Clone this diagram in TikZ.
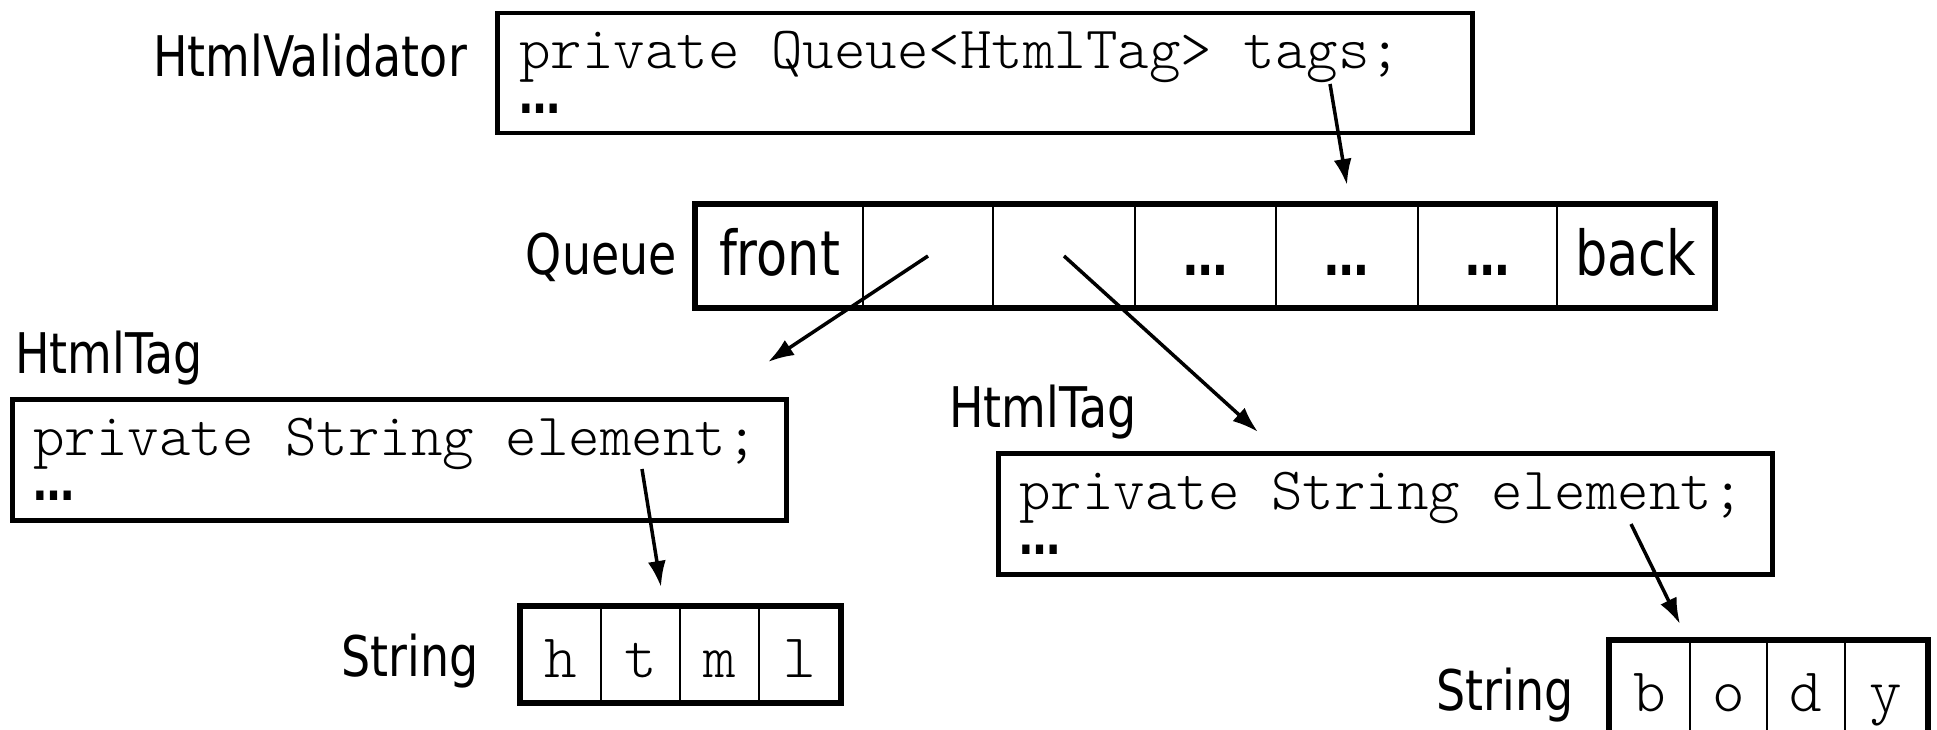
\documentclass[tikz,border=0pt]{standalone}
\usepackage{fontspec}
\setmainfont{DejaVu Sans}[FakeStretch=0.82]
\newfontfamily\codefont{Latin Modern Mono Light}
\usetikzlibrary{arrows.meta}
\tikzset{
    objbox/.style={draw, line width=4.5pt, inner sep=0pt, anchor=north west},
    arraybox/.style={draw, line width=6pt},
    cell/.style={draw, line width=2pt, inner sep=0pt, anchor=north west,
        text height=44pt, text depth=6pt},
    typename/.style={font=\fontsize{56}{60}\selectfont, inner sep=0pt},
    code/.style={font=\codefont\fontsize{60}{64}\selectfont, inner sep=0pt, anchor=base west},
    etc/.style={font=\bfseries\fontsize{50}{54}\selectfont, inner sep=0pt, anchor=base west},
    ref/.style={-{Latex[length=26pt,width=18pt]}, line width=3.5pt}
}
\newcommand\more{{\bfseries\fontsize{54}{58}\selectfont …}}

\begin{document}
\begin{tikzpicture}[x=1pt, y=-1pt]
    \useasboundingbox (0,0) rectangle (1937,730);

    % HtmlValidator object
    \node[typename, anchor=base east] (validatorname) at (467,77) {HtmlValidator};
    \node[objbox, minimum width=975, minimum height=120] (validator) at (495,11) {};
    \node[code] (validatorfield) at (519,69) {private Queue<HtmlTag> tags;};
    \node[etc] (validatoretc) at (519,114) {…};

    % the queue
    \node[typename, anchor=base east] (queuename) at (677,274) {Queue};
    \foreach \l/\r/\t [count=\i] in {695/862/front, 862/992/, 992/1134/,
            1134/1275/\more, 1275/1417/\more, 1417/1556/\more, 1556/1713/back} {
        \node[cell, minimum width=\r-\l, minimum height=102,
            font=\fontsize{62}{66}\selectfont] (q\i) at (\l,204) {\t};
    }
    \draw[arraybox] (q1.north west) rectangle (q7.south east);

    % first tag
    \node[typename, anchor=base west] (tagAname) at (15,373) {HtmlTag};
    \node[objbox, minimum width=774, minimum height=121] (tagA) at (10,397) {};
    \node[code] (tagAfield) at (33,455) {private String element;};
    \node[etc] (tagAetc) at (33,500) {…};

    \node[typename, anchor=base east] (strAname) at (479,676) {String};
    \foreach \l/\r/\t [count=\i] in {520/600/h, 600/679/t, 679/758/m, 758/839/l} {
        \node[cell, minimum width=\r-\l, minimum height=95, text height=50pt, text depth=4pt,
            font=\codefont\fontsize{62}{66}\selectfont] (a\i) at (\l,606) {\t};
    }
    \draw[arraybox] (a1.north west) rectangle (a4.south east);

    % second tag
    \node[typename, anchor=base west] (tagBname) at (949,427) {HtmlTag};
    \node[objbox, minimum width=774, minimum height=121] (tagB) at (996,451) {};
    \node[code] (tagBfield) at (1019,509) {private String element;};
    \node[etc] (tagBetc) at (1019,554) {…};

    \node[typename, anchor=base east] (strBname) at (1574,710) {String};
    \foreach \l/\r/\t [count=\i] in {1609/1689/b, 1689/1766/o, 1766/1844/d, 1844/1926/y} {
        \node[cell, minimum width=\r-\l, minimum height=95, text height=50pt, text depth=4pt,
            font=\codefont\fontsize{62}{66}\selectfont] (b\i) at (\l,640) {\t};
    }
    \draw[arraybox] (b1.north west) rectangle (b4.south east);

    % references
    \coordinate (tagsref) at (1330,84);
    \coordinate (queuein) at (1347,185);
    \coordinate (tagAin) at (768,362);
    \coordinate (tagBin) at (1258,432);
    \coordinate (elemAref) at (642,469);
    \coordinate (strAin) at (661,587);
    \coordinate (elemBref) at (1631,524);
    \coordinate (strBin) at (1680,624);
    \draw[ref] (tagsref) -- (queuein);
    \draw[ref] (q2.center) -- (tagAin);
    \draw[ref] (q3.center) -- (tagBin);
    \draw[ref] (elemAref) -- (strAin);
    \draw[ref] (elemBref) -- (strBin);
\end{tikzpicture}
\end{document}
